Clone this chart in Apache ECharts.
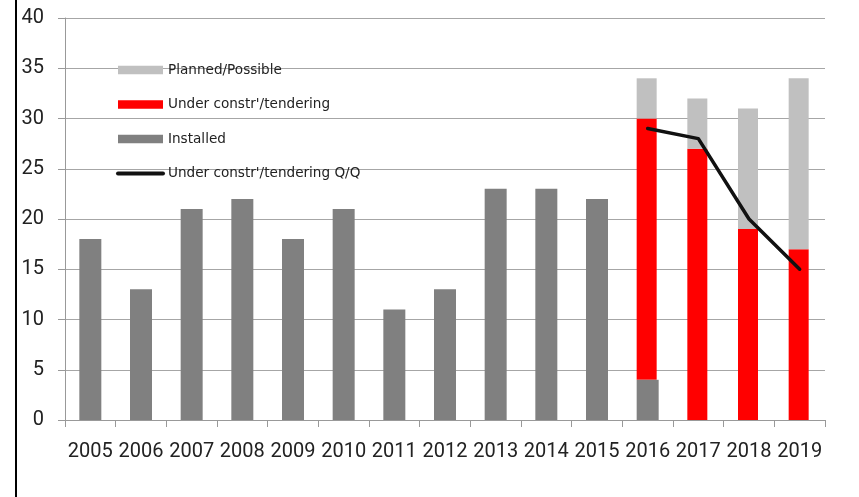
<!DOCTYPE html>
<html>
<head>
<meta charset="utf-8">
<script src="https://cdn.jsdelivr.net/npm/echarts@6/dist/echarts.min.js"></script>
<style>
html,body{margin:0;padding:0;background:#fff;}
#chart{width:859px;height:497px;}
</style>
</head>
<body>
<div id="chart"></div>
<script>
var years = ['2005','2006','2007','2008','2009','2010','2011','2012','2013','2014','2015','2016','2017','2018','2019'];
var installed = [18,13,21,22,18,21,11,13,23,23,22,4,0,0,0];
var underConstr = [0,0,0,0,0,0,0,0,0,0,0,26,27,19,17];
var planned = [0,0,0,0,0,0,0,0,0,0,0,4,5,12,17];
var underConstrQQ = [null,null,null,null,null,null,null,null,null,null,null,29,28,20,15];

// transparent base so the under-construction stack starts on top of installed
var baseOffset = installed.map(function(v, i){ return underConstr[i] > 0 ? v : 0; });

var chart = echarts.init(document.getElementById('chart'));
var font = 'Roboto';
chart.setOption({
  animation: false,
  backgroundColor: '#ffffff',
  graphic: [{
    type: 'rect', left: 15, top: 0,
    shape: {width: 2, height: 497},
    style: {fill: '#000'}
  }],
  grid: {left: 65, right: 34, top: 18, bottom: 77, containLabel: false},
  legend: {
    orient: 'vertical',
    left: 111, top: 58,
    itemWidth: 45, itemHeight: 8.5, itemGap: 20.5,
    textStyle: {fontFamily: 'DejaVu Sans', fontSize: 13.6, color: '#222', lineHeight: 14},
    data: [
      {name: 'Planned/Possible', icon: 'rect'},
      {name: "Under constr'/tendering", icon: 'rect'},
      {name: 'Installed', icon: 'rect'},
      {name: "Under constr'/tendering Q/Q", itemStyle: {opacity: 0},
       lineStyle: {color: '#111', width: 4, cap: 'round'}}
    ]
  },
  xAxis: {
    type: 'category',
    data: years,
    axisLine: {lineStyle: {color: '#999', width: 1}},
    axisTick: {show: true, length: 7, lineStyle: {color: '#999'}},
    axisLabel: {fontFamily: font, fontSize: 20, color: '#222', margin: 22, interval: 0}
  },
  yAxis: {
    type: 'value', min: 0, max: 40, interval: 5,
    axisLine: {show: true, lineStyle: {color: '#999'}},
    axisTick: {show: true, length: 7, lineStyle: {color: '#999'}},
    axisLabel: {fontFamily: font, fontSize: 20, color: '#222', margin: 21},
    splitLine: {lineStyle: {color: '#a6a6a6', width: 1}}
  },
  series: [
    {name: 'base', type: 'bar', stack: 'u', barWidth: 20, barGap: '-100%', silent: true,
     itemStyle: {color: 'rgba(0,0,0,0)'}, data: baseOffset},
    {name: "Under constr'/tendering", type: 'bar', stack: 'u', barWidth: 20, barGap: '-100%',
     itemStyle: {color: '#ff0000'}, data: underConstr},
    {name: 'Planned/Possible', type: 'bar', stack: 'u', barWidth: 20, barGap: '-100%',
     itemStyle: {color: '#c0c0c0'}, data: planned},
    {name: 'Installed', type: 'bar', stack: 'i', barWidth: 22, barGap: '-100%',
     itemStyle: {color: '#808080'}, data: installed},
    {name: "Under constr'/tendering Q/Q", type: 'line', symbol: 'none', connectNulls: false,
     lineStyle: {color: '#111', width: 3.5, cap: 'round', join: 'round'},
     itemStyle: {color: '#111'},
     data: underConstrQQ, z: 5}
  ]
});
</script>
</body>
</html>
